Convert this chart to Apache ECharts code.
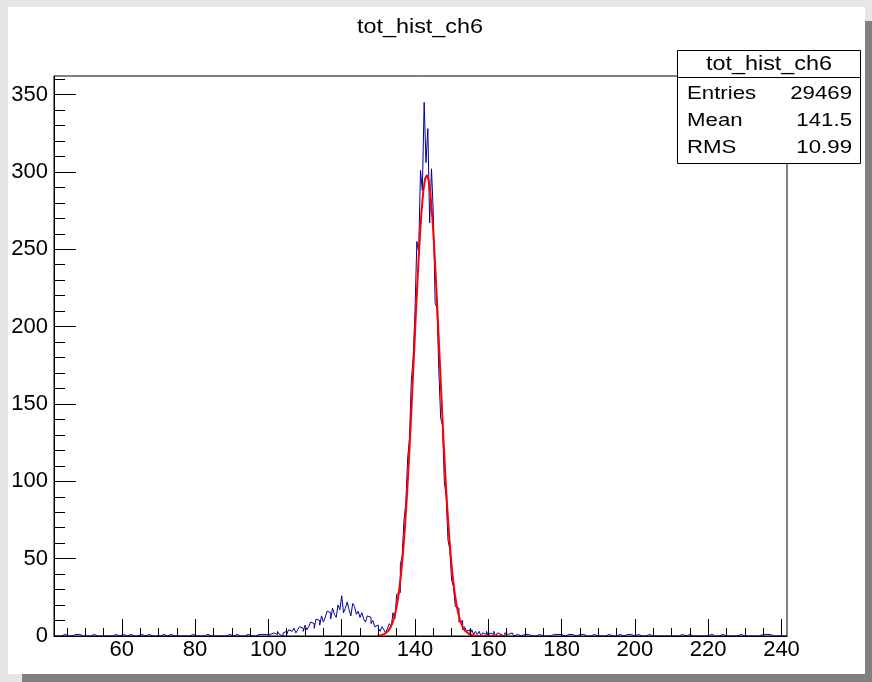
<!DOCTYPE html>
<html><head><meta charset="utf-8">
<script src="https://cdn.jsdelivr.net/npm/echarts@6/dist/echarts.min.js"></script>
<style>
html,body{margin:0;padding:0;background:#e6e6e6;}
#wrap{position:relative;width:872px;height:682px;overflow:hidden;background:#e6e6e6;}
#canvasbg{position:absolute;left:8px;top:7px;width:857px;height:667px;background:#fff;}
#shR{position:absolute;left:865px;top:21px;width:7px;height:661px;background:#808080;}
#shB{position:absolute;left:22px;top:674px;width:850px;height:8px;background:#808080;}
#chart{position:absolute;left:0;top:0;width:872px;height:682px;}
</style></head><body>
<div id="wrap"><div id="canvasbg"></div><div id="shR"></div><div id="shB"></div><div id="chart"></div></div>
<script>
const chartTitle = 'tot_hist_ch6';
const histMin = 41.5, histMax = 241.5, binWidth = 0.5;
const counts = [
  /* 41.5-49.5 */ 0,0,0,0,1,1,1,0,0,0,0,1,1,1,0,0,0,
  /* 50 */ 0,0,0,0,1,1,0,0,0,0, 0,0,0,0,0,0,1,1,0,1,
  /* 60 */ 1,1,0,1,1,0,0,0,0,0, 1,1,0,1,1,0,0,0,0,0,
  /* 70 */ 0,0,1,0,0,0,1,0,0,0, 0,1,0,0,0,0,0,1,1,0,
  /* 80 */ 0,1,0,0,0,0,1,1,0,0, 0,0,0,1,0,0,0,0,1,0,
  /* 90 */ 0,1,1,0,0,1,0,0,1,1, 0,1,0,0,1,1,1,0,1,1,
  /* 100 */ 1,0,2,2,1,3,1,0,2,3, 1,4,3,2,5,2,4,6,5,3,
  /* 110 */ 7,4,6,9,8,5,11,10,7,13, 9,12,16,15,11,18,14,12,20,17,
  /* 120 */ 26,15,18,22,17,13,21,19,14,16, 12,15,11,9,13,12,8,10,6,7,
  /* 130 */ 5,3,6,4,2,5,8,6,15,11, 27,28,46,52,75,86,115,128,165,180,
  /* 140 */ 210,255,248,301,288,345,306,328,267,302, 273,215,212,172,141,136,100,90,62,56,
  /* 150 */ 36,32,19,18,9,10,4,6,3,4, 1,4,1,3,1,3,0,2,1,3,
  /* 160 */ 0,2,1,3,0,2,1,2,0,2, 1,0,2,1,0,1,2,0,1,1,
  /* 170 */ 0,1,1,0,1,0,1,1,0,0, 1,0,1,0,0,1,0,1,0,1,
  /* 180 */ 1,0,0,1,0,1,1,0,0,1, 0,1,0,0,1,0,1,1,0,0,
  /* 190 */ 1,0,1,0,0,1,0,0,1,0, 1,1,0,0,0,1,0,1,0,0,
  /* 200 */ 0,1,0,0,1,0,0,1,0,0, 0,0,1,0,0,0,1,0,0,0,
  /* 210 */ 1,0,0,0,0,1,0,0,0,1, 0,0,0,0,1,0,0,0,0,0,
  /* 220 */ 0,1,0,0,0,0,0,1,0,0, 0,0,0,0,1,0,1,1,0,0,
  /* 230 */ 1,0,1,0,0,0,0,0,1,1, 0,1,1,1,0,0,0,0,0,0,
  /* 240 */ 0,0,0
];
const fitStart = 129.75, fitStep = 0.5;
const fitValues = [
  0.19,0.32,0.53,0.88,1.41,2.23,3.45,5.24,7.8,11.3,
  16.2,22.6,30.9,41.5,54.5,70.3,88.7,109.6,132.8,157.6,
  183.3,208.9,233.3,255.2,273.5,287.2,295.5,298,294.4,284.9,
  270.2,251,228.5,203.8,178.2,152.5,128,105.2,84.8,66.9,
  51.7,39.2,29.1,21.2,15.1,10.5,7.2,4.8,3.2,2.0,
  1.3,0.8,0.5,0.3,0.17,0.1,0.05,0.03,0.01,0,
  0,0,0,0,0,0,0,0,0,0,0
];
const xMajorTicks = [60,80,100,120,140,160,180,200,220,240];
const xMinorTicks = [45,50,55,65,70,75,85,90,95,105,110,115,125,130,135,145,150,155,165,170,175,185,190,195,205,210,215,225,230,235];
const yMax = 362;
const yMajorTicks = [0,50,100,150,200,250,300,350];
const yMinorTicks = [10,20,30,40,60,70,80,90,110,120,130,140,160,170,180,190,210,220,230,240,260,270,280,290,310,320,330,340,360];
const statsLabels = ['Entries','Mean','RMS'];
const statsValues = ['29469','141.5','10.99'];

if (counts.length !== Math.round((histMax - histMin) / binWidth)) throw new Error('bad bin count ' + counts.length);

const histPts = [];
counts.forEach((c, i) => {
  const x0 = histMin + i * binWidth;
  histPts.push([x0, c], [x0 + binWidth, c]);
});
const fitPts = fitValues.map((v, i) => [fitStart + i * fitStep, v]);

const FONT = 'Liberation Sans, Arial, Helvetica, sans-serif';
const GX = 54, GY = 76, GW = 733, GH = 560;

function axisCommon(extra) {
  return Object.assign({
    type: 'value', splitLine: {show: false}, z: 5
  }, extra);
}

const graphic = [
  {type: 'text', x: 420, y: 27, scaleX: 1.17, z: 20,
   style: {text: chartTitle, font: '20px ' + FONT, fill: '#000', textAlign: 'center', textVerticalAlign: 'middle'}},
  {type: 'rect', shape: {x: 677.5, y: 50.5, width: 183, height: 113}, style: {fill: '#fff', stroke: '#000', lineWidth: 1}, z: 20},
  {type: 'line', shape: {x1: 677.5, y1: 77.5, x2: 860.5, y2: 77.5}, style: {stroke: '#000', lineWidth: 1}, z: 21},
  {type: 'text', x: 769, y: 64, scaleX: 1.17, z: 22,
   style: {text: chartTitle, font: '20px ' + FONT, fill: '#000', textAlign: 'center', textVerticalAlign: 'middle'}}
];
const rowY = [93.5, 120.5, 147.5];
statsLabels.forEach((lab, i) => {
  graphic.push({type: 'text', x: 687, y: rowY[i], scaleX: 1.17, z: 22,
    style: {text: lab, font: '19px ' + FONT, fill: '#000', textAlign: 'left', textVerticalAlign: 'middle'}});
  graphic.push({type: 'text', x: 852, y: rowY[i], scaleX: 1.17, z: 22,
    style: {text: statsValues[i], font: '19px ' + FONT, fill: '#000', textAlign: 'right', textVerticalAlign: 'middle'}});
});

const chart = echarts.init(document.getElementById('chart'), null, {renderer: 'canvas'});
chart.setOption({
  animation: false,
  backgroundColor: 'transparent',
  grid: {left: GX, top: GY, width: GW, height: GH, show: true, borderColor: '#000', borderWidth: 1, backgroundColor: 'transparent', containLabel: false},
  xAxis: [
    axisCommon({min: histMin, max: histMax, position: 'bottom',
      axisLine: {show: true, onZero: false, lineStyle: {color: '#000', width: 1}},
      axisTick: {show: true, inside: true, length: 17, customValues: xMajorTicks, lineStyle: {color: '#000', width: 1}},
      axisLabel: {show: true, customValues: xMajorTicks, color: '#000', fontSize: 22, fontFamily: FONT, margin: 3}}),
    axisCommon({min: histMin, max: histMax, position: 'bottom',
      axisLine: {show: false, onZero: false},
      axisTick: {show: true, inside: true, length: 8, customValues: xMinorTicks, lineStyle: {color: '#000', width: 1}},
      axisLabel: {show: false}})
  ],
  yAxis: [
    axisCommon({min: 0, max: yMax, position: 'left',
      axisLine: {show: true, onZero: false, lineStyle: {color: '#000', width: 1}},
      axisTick: {show: true, inside: true, length: 22, customValues: yMajorTicks, lineStyle: {color: '#000', width: 1}},
      axisLabel: {show: true, customValues: yMajorTicks, color: '#000', fontSize: 22, fontFamily: FONT, margin: 6}}),
    axisCommon({min: 0, max: yMax, position: 'left',
      axisLine: {show: false, onZero: false},
      axisTick: {show: true, inside: true, length: 11, customValues: yMinorTicks, lineStyle: {color: '#000', width: 1}},
      axisLabel: {show: false}})
  ],
  series: [
    {type: 'line', name: chartTitle, xAxisIndex: 0, yAxisIndex: 0, data: histPts, symbol: 'none', showSymbol: false,
     lineStyle: {color: '#000099', width: 1}, z: 2, silent: true},
    {type: 'line', name: 'fit', xAxisIndex: 0, yAxisIndex: 0, data: fitPts, symbol: 'none', showSymbol: false,
     lineStyle: {color: '#ff0000', width: 2}, z: 3, silent: true}
  ],
  graphic: graphic
});
</script>
</body></html>
